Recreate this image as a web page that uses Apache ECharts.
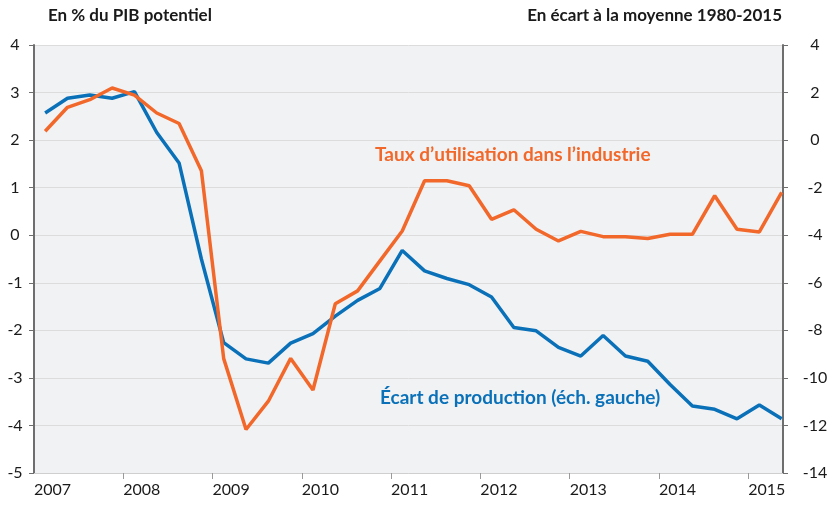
<!DOCTYPE html>
<html>
<head>
<meta charset="utf-8">
<script src="https://cdn.jsdelivr.net/npm/echarts@6/dist/echarts.min.js"></script>
<style>
  html, body { margin: 0; padding: 0; background: #fff; }
  #chart { width: 833px; height: 505px; }
</style>
</head>
<body>
<div id="chart"></div>
<script>
// trimestres 2007T1 -> 2015T2
var quarters = [];
for (var yy = 2007; yy <= 2015; yy++) {
  for (var q = 1; q <= 4; q++) {
    if (yy === 2015 && q > 2) break;
    quarters.push(yy + 'T' + q);
  }
}
var years = [2007, 2008, 2009, 2010, 2011, 2012, 2013, 2014, 2015];

// Écart de production, en % du PIB potentiel (échelle gauche)
var ecartProduction = [
  2.57, 2.88, 2.95, 2.88, 3.02, 2.16, 1.52, -0.50,
  -2.26, -2.60, -2.69, -2.27, -2.07, -1.70, -1.37, -1.12,
  -0.32, -0.75, -0.91, -1.04, -1.30, -1.94, -2.01, -2.36,
  -2.54, -2.11, -2.54, -2.65, -3.14, -3.59, -3.66, -3.86,
  -3.57, -3.86
];

// Taux d'utilisation dans l'industrie, écart à la moyenne 1980-2015 (échelle droite)
var tauxUtilisation = [
  0.37, 1.38, 1.70, 2.19, 1.89, 1.14, 0.70, -1.29,
  -9.19, -12.17, -10.98, -9.18, -10.51, -6.88, -6.34, -5.08,
  -3.82, -1.71, -1.71, -1.92, -3.33, -2.93, -3.75, -4.24,
  -3.84, -4.06, -4.06, -4.14, -3.96, -3.96, -2.34, -3.75,
  -3.86, -2.20
];

var blue = '#0a71b9';
var orange = '#f2682a';
var font = 'Lato';

// position du trimestre au milieu de sa période
function toPoints(values) {
  return values.map(function (v, i) {
    var parts = quarters[i].split('T');
    return [Number(parts[0]) + (Number(parts[1]) - 0.5) / 4, v];
  });
}

var myChart = echarts.init(document.getElementById('chart'));
var option = {
  animation: false,
  backgroundColor: '#fff',
  textStyle: { fontFamily: font },
  grid: {
    left: 34, right: 50, top: 45, bottom: 32,
    show: true, backgroundColor: '#f1f2f4', borderWidth: 0
  },
  graphic: [
    { type: 'text', left: 48, top: 7,
      style: { text: 'En % du PIB potentiel', font: 'bold 17px ' + font, fill: '#1a1a1a' } },
    { type: 'text', right: 51, top: 7,
      style: { text: 'En écart à la moyenne 1980-2015', font: 'bold 17px ' + font, fill: '#1a1a1a' } },
    { type: 'text', left: 375, top: 145,
      style: { text: 'Taux d’utilisation dans l’industrie', font: 'bold 19px ' + font, fill: orange } },
    { type: 'text', left: 380, top: 388,
      style: { text: 'Écart de production (éch. gauche)', font: 'bold 19px ' + font, fill: blue } }
  ],
  xAxis: {
    type: 'value',
    min: 2007,
    max: 2015.39,
    axisLine: { show: true, onZero: false, lineStyle: { color: '#cfcfcf', width: 1 } },
    axisTick: { show: true, length: 6, customValues: years.slice(1), lineStyle: { color: '#9a9a9a' } },
    axisLabel: {
      customValues: years, align: 'left', margin: 9,
      fontSize: 16, color: '#1a1a1a', fontFamily: font,
      formatter: function (v) { return String(Math.round(v)); }
    },
    splitLine: { show: false }
  },
  yAxis: [
    {
      type: 'value', min: -5, max: 4, interval: 1, position: 'left',
      axisLine: { show: true, lineStyle: { color: '#6e6e6e', width: 2 } },
      axisTick: { show: true, length: 5, lineStyle: { color: '#6e6e6e' } },
      axisLabel: { fontSize: 16, color: '#1a1a1a', margin: 19, align: 'center', fontFamily: font },
      splitLine: { show: true, lineStyle: { color: '#dcdcdc', width: 1 } }
    },
    {
      type: 'value', min: -14, max: 4, interval: 2, position: 'right',
      axisLine: { show: true, lineStyle: { color: '#6e6e6e', width: 2 } },
      axisTick: { show: true, length: 5, lineStyle: { color: '#6e6e6e' } },
      axisLabel: { fontSize: 16, color: '#1a1a1a', margin: 32, align: 'center', fontFamily: font },
      splitLine: { show: false }
    }
  ],
  series: [
    {
      name: 'Écart de production',
      type: 'line',
      yAxisIndex: 0,
      data: toPoints(ecartProduction),
      showSymbol: false,
      lineStyle: { color: blue, width: 3.5 },
      z: 3
    },
    {
      name: 'Taux d’utilisation dans l’industrie',
      type: 'line',
      yAxisIndex: 1,
      data: toPoints(tauxUtilisation),
      showSymbol: false,
      lineStyle: { color: orange, width: 3.5 },
      z: 4
    }
  ]
};
myChart.setOption(option);
</script>
</body>
</html>
